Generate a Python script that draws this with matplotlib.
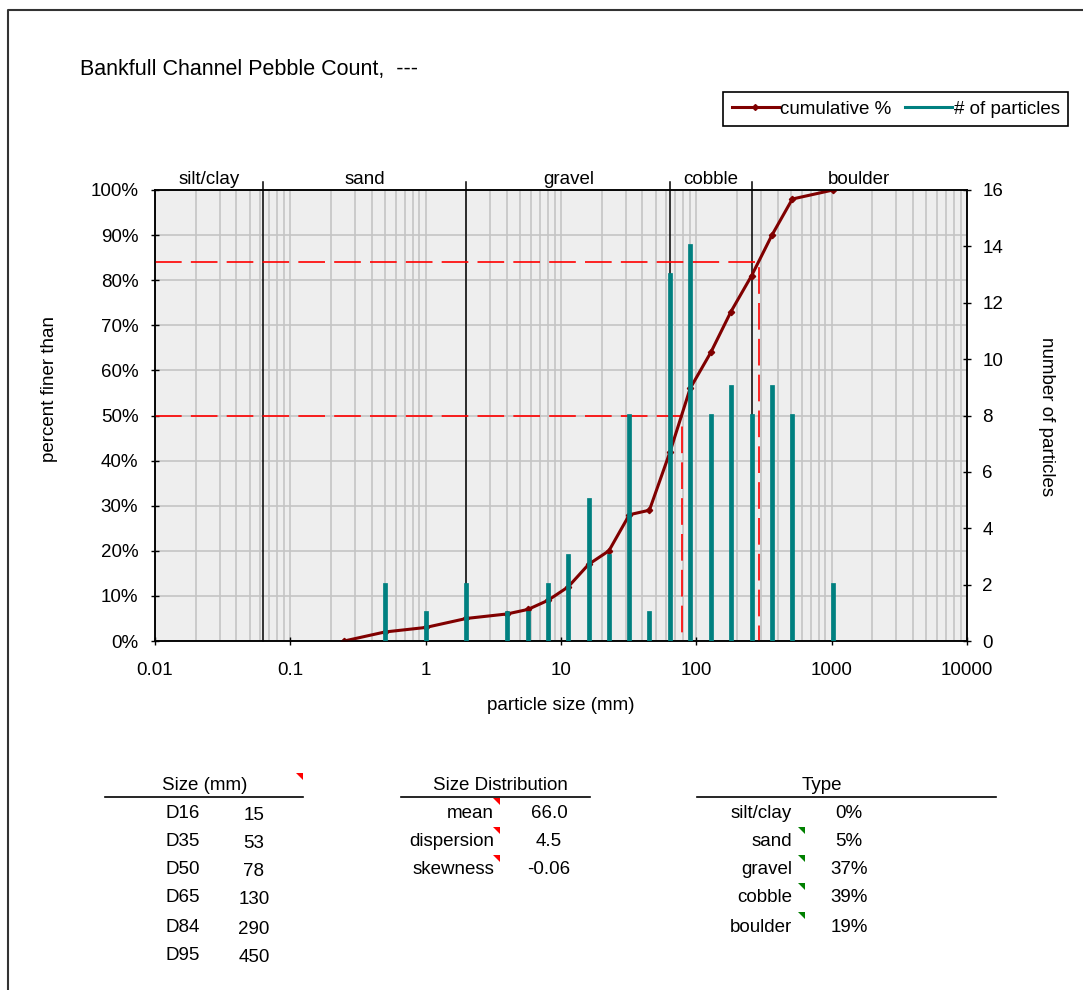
import matplotlib
matplotlib.use("Agg")
import matplotlib.pyplot as plt
import matplotlib.transforms as mtransforms
from matplotlib.lines import Line2D
from matplotlib.patches import Polygon
from matplotlib.ticker import FixedLocator, LogLocator, NullFormatter

plt.rcParams["font.family"] = ["Liberation Sans", "DejaVu Sans"]

# ---- data ----
sizes = [0.062, 0.125, 0.25, 0.5, 1, 2, 4, 5.7, 8, 11.3, 16, 22.6, 32, 45,
         64, 90, 128, 180, 256, 362, 512, 1024, 2048, 4096]
counts = [0, 0, 0, 2, 1, 2, 1, 1, 2, 3, 5, 3, 8, 1,
          13, 14, 8, 9, 8, 9, 8, 2, 0, 0]
cum_sizes = [0.25, 0.5, 1, 2, 4, 5.7, 8, 11.3, 16, 22.6, 32, 45,
             64, 90, 128, 180, 256, 362, 512, 1024]
cum_pct = [0, 2, 3, 5, 6, 7, 9, 12, 17, 20, 28, 29,
           42, 56, 64, 73, 81, 90, 98, 100]

class_bounds = [0.0625, 2, 64, 256]
class_names = ["silt/clay", "sand", "gravel", "cobble", "boulder"]

x_ticks = [0.01, 0.1, 1, 10, 100, 1000, 10000]
x_labels = ["0.01", "0.1", "1", "10", "100", "1000", "10000"]
pct_ticks = list(range(0, 101, 10))
count_ticks = list(range(0, 17, 2))

d_names = ["D16", "D35", "D50", "D65", "D84", "D95"]
d_values = [15, 53, 78, 130, 290, 450]
dist_names = ["mean", "dispersion", "skewness"]
dist_values = ["66.0", "4.5", "-0.06"]
type_names = ["silt/clay", "sand", "gravel", "cobble", "boulder"]
type_pct = [0, 5, 37, 39, 19]

W, H = 1083, 990
DARKRED = "#800000"
TEAL = "#008080"
FS = 13.5


def fx(px):
    return px / W


def fy(py):
    return 1 - py / H


fig = plt.figure(figsize=(W / 100, H / 100), dpi=100)
ax = fig.add_axes([fx(155), fy(641), fx(967) - fx(155), fy(190) - fy(641)])
ax.set_facecolor("#EEEEEE")
ax.set_xscale("log")
ax.set_xlim(x_ticks[0], x_ticks[-1])
ax.set_ylim(0, 100)

ax.xaxis.set_major_locator(FixedLocator(x_ticks))
ax.set_xticklabels(x_labels)
ax.xaxis.set_minor_locator(LogLocator(base=10, subs=range(2, 10)))
ax.xaxis.set_minor_formatter(NullFormatter())
ax.set_yticks(pct_ticks)
ax.set_yticklabels([f"{v}%" for v in pct_ticks])

ax.grid(which="major", axis="both", color="#C4C4C4", lw=1.2, zorder=0)
ax.grid(which="minor", axis="x", color="#C4C4C4", lw=1.2, zorder=0)
ax.set_axisbelow(True)
ax.tick_params(which="major", direction="inout", length=6, width=1,
               labelsize=FS, pad=9)
ax.tick_params(axis="x", pad=12)
ax.tick_params(which="minor", length=0)
for s in ax.spines.values():
    s.set_color("black")
    s.set_linewidth(1.1)

# class boundaries and names
trans = mtransforms.blended_transform_factory(ax.transData, ax.transAxes)
for b in class_bounds:
    ax.axvline(b, ymin=0, ymax=1.018, color="black", lw=1.1, clip_on=False, zorder=2)
edges = [x_ticks[0]] + class_bounds + [x_ticks[-1]]
for i, name in enumerate(class_names):
    xc = (edges[i] * edges[i + 1]) ** 0.5
    ax.text(xc, 1.014, name, transform=trans, ha="center", va="baseline",
            fontsize=FS)

# D50 / D84 guides
d50 = d_values[d_names.index("D50")]
d84 = d_values[d_names.index("D84")]
for pct, d in ((50, d50), (84, d84)):
    ax.plot([x_ticks[0], d, d], [pct, pct, 0], color="#FF0000", lw=1.2,
            dashes=(16, 5.5), zorder=3)

ax.plot(cum_sizes, cum_pct, color=DARKRED, lw=2.2, marker="D", ms=3.2,
        zorder=4)

ax2 = ax.twinx()
ax2.set_ylim(0, 16)
ax2.set_yticks(count_ticks)
ax2.tick_params(direction="inout", length=6, width=1, labelsize=FS, pad=8)
ax2.vlines(sizes, 0, counts, color=TEAL, lw=3.4, capstyle="projecting",
           zorder=5)
for s in ax2.spines.values():
    s.set_color("black")
    s.set_linewidth(1.1)

# axis titles
fig.text(fx(50), fy(389), "percent finer than", rotation=90, ha="center",
         va="center", fontsize=FS)
fig.text(fx(1046), fy(417), "number of particles", rotation=270, ha="center",
         va="center", fontsize=FS)
fig.text(fx(561), fy(706), "particle size (mm)", ha="center", va="center",
         fontsize=FS)
fig.text(fx(80), fy(70), "Bankfull Channel Pebble Count,  ---", ha="left",
         va="center", fontsize=15.5)

# legend
handles = [
    Line2D([], [], color=DARKRED, lw=2.2, marker="D", ms=3),
    Line2D([], [], color=TEAL, lw=2.2),
]
leg = fig.legend(handles, ["cumulative %", "# of particles"], loc="upper right",
                 bbox_to_anchor=(fx(1068), fy(92)), ncol=2, fontsize=FS,
                 frameon=True, fancybox=False, edgecolor="black", framealpha=1,
                 borderaxespad=0, handlelength=2.5, handletextpad=0.1,
                 columnspacing=0.7, borderpad=0.45)
leg.get_frame().set_linewidth(1.2)

# outer frame (left and top edges)
fig.add_artist(Line2D([fx(8), fx(8), 1], [0, fy(10), fy(10)],
                      transform=fig.transFigure, color="#333333", lw=1.5))


def hline(x0, x1, y):
    fig.add_artist(Line2D([fx(x0), fx(x1)], [fy(y), fy(y)],
                          transform=fig.transFigure, color="black", lw=1.2))


def corner(x, y, color):
    pts = [(fx(x), fy(y)), (fx(x + 7), fy(y)), (fx(x + 7), fy(y + 7))]
    fig.add_artist(Polygon(pts, closed=True, transform=fig.transFigure,
                           facecolor=color, edgecolor="none"))


rows_y = [813, 842, 870, 898, 927, 956]

# size table
fig.text(fx(205), fy(786), "Size (mm)", ha="center", va="center", fontsize=FS)
hline(105, 303, 797)
corner(296, 773, "#FF0000")
for name, val, y in zip(d_names, d_values, rows_y):
    fig.text(fx(183), fy(y), name, ha="center", va="center", fontsize=FS)
    fig.text(fx(254), fy(y + 2), str(val), ha="center", va="center", fontsize=FS)

# size distribution table
fig.text(fx(500), fy(786), "Size Distribution", ha="center", va="center",
         fontsize=FS)
hline(401, 590, 797)
for name, val, y in zip(dist_names, dist_values, rows_y):
    fig.text(fx(494), fy(y), name, ha="right", va="center", fontsize=FS)
    fig.text(fx(549), fy(y), val, ha="center", va="center", fontsize=FS)
    corner(493, y - 15, "#FF0000")

# type table
fig.text(fx(822), fy(786), "Type", ha="center", va="center", fontsize=FS)
hline(697, 996, 797)
for i, (name, val, y) in enumerate(zip(type_names, type_pct, rows_y)):
    fig.text(fx(792), fy(y), name, ha="right", va="center", fontsize=FS)
    fig.text(fx(849), fy(y), f"{val}%", ha="center", va="center", fontsize=FS)
    if i > 0:
        corner(798, y - 15, "#008000")

fig.savefig("out.png", dpi=100)
